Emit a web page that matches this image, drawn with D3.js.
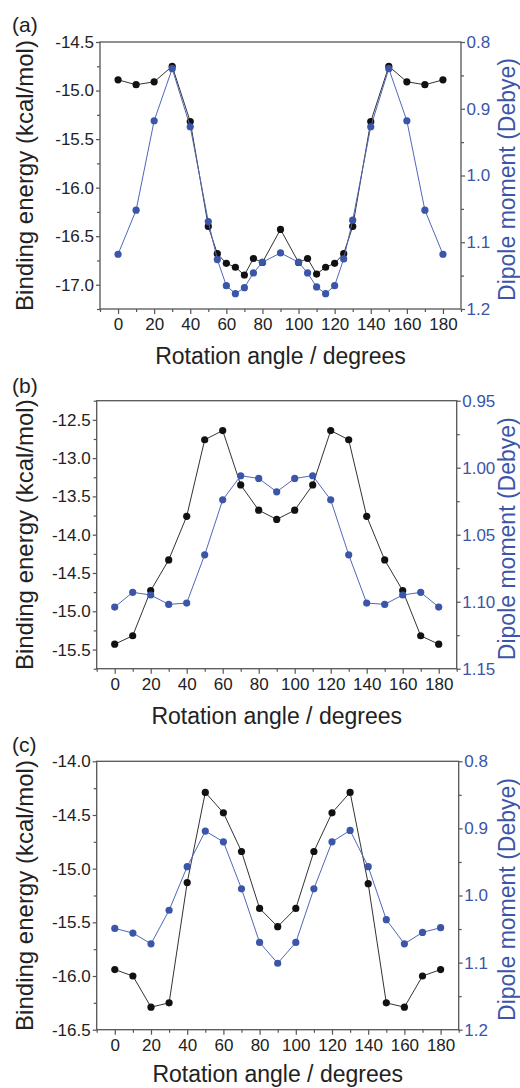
<!DOCTYPE html>
<html>
<head>
<meta charset="utf-8">
<script src="https://cdn.jsdelivr.net/npm/d3@7"></script>
<style>
  body { margin: 0; background: #fff; }
  svg { font-family: "Liberation Sans", Arial, sans-serif; }
</style>
</head>
<body>
<svg id="chart" width="520" height="1088"></svg>
<script>
// ---- data ----
// panel (a)
var anglesA = [0,10,20,30,40,50,55,60,65,70,75,80,90,100,105,110,115,120,125,130,140,150,160,170,180]
var energyA = [-14.89,-14.94,-14.91,-14.75,-15.32,-16.40,-16.68,-16.78,-16.82,-16.90,-16.73,-16.77,-16.43,-16.77,-16.73,-16.89,-16.82,-16.78,-16.68,-16.40,-15.32,-14.75,-14.91,-14.94,-14.89]
var dipoleA = [1.118,1.052,0.918,0.840,0.927,1.069,1.126,1.165,1.177,1.168,1.146,1.130,1.116,1.130,1.146,1.167,1.177,1.165,1.125,1.067,0.927,0.840,0.918,1.052,1.118]
// panel (b)
var anglesB = [0,10,20,30,40,50,60,70,80,90,100,110,120,130,140,150,160,170,180]
var energyB = [-15.43,-15.32,-14.73,-14.33,-13.76,-12.76,-12.64,-13.35,-13.68,-13.80,-13.68,-13.35,-12.64,-12.76,-13.76,-14.33,-14.73,-15.32,-15.43]
var dipoleB = [1.104,1.093,1.095,1.102,1.101,1.065,1.024,1.006,1.008,1.018,1.008,1.006,1.024,1.065,1.101,1.102,1.095,1.093,1.104]
// panel (c)
var anglesC = [0,10,20,30,40,50,60,70,80,90,100,110,120,130,140,150,160,170,180]
var energyC = [-15.94,-16.00,-16.29,-16.25,-15.13,-14.29,-14.48,-14.84,-15.37,-15.54,-15.37,-14.84,-14.48,-14.29,-15.14,-16.25,-16.29,-16.00,-15.94]
var dipoleC = [1.049,1.056,1.072,1.022,0.957,0.904,0.920,0.990,1.070,1.101,1.070,0.990,0.920,0.903,0.957,1.036,1.072,1.055,1.048]

// ticks
var xTicks = [0,20,40,60,80,100,120,140,160,180]
var xMinor = [-10,10,30,50,70,90,110,130,150,170,190]
var leftTicksA = [-14.5,-15.0,-15.5,-16.0,-16.5,-17.0]
var leftTicksB = [-12.5,-13.0,-13.5,-14.0,-14.5,-15.0,-15.5]
var leftTicksC = [-14.0,-14.5,-15.0,-15.5,-16.0,-16.5]
var rightTicksA = [0.8,0.9,1.0,1.1,1.2]
var rightTicksB = [0.95,1.00,1.05,1.10,1.15]
var rightTicksC = [0.8,0.9,1.0,1.1,1.2]

var blue = "#3b55a8"
var blueLine = "#5068b8"
var frameCol = "#555"

var svg = d3.select("#chart")

var drawPanel = function(p){
  var x = d3.scaleLinear().domain([-10, 190]).range([p.left, p.right])
  var yL = d3.scaleLinear().domain(p.leftDomain).range([p.bottom, p.top])
  var yR = d3.scaleLinear().domain(p.rightDomain).range([p.top, p.bottom]) // reversed axis

  var g = svg.append("g")

  // minor ticks (no labels)
  var halfStep = function(ticks){
    var step = Math.abs(ticks[1] - ticks[0])
    var sign = ticks[1] > ticks[0] ? 1 : -1
    var out = []
    for (var i = 0; i < ticks.length; i++) out.push(ticks[i] + sign * step / 2)
    out.push(ticks[0] - sign * step / 2)
    return out
  }
  var inside = function(dom){
    return function(v){ return v >= d3.min(dom) - 1e-9 && v <= d3.max(dom) + 1e-9 }
  }
  g.append("g").attr("transform", "translate(0," + p.bottom + ")")
    .call(d3.axisBottom(x).tickValues(xMinor).tickSize(3).tickFormat(""))
  g.append("g").attr("transform", "translate(" + p.left + ",0)")
    .call(d3.axisLeft(yL).tickValues(halfStep(p.leftTicks).filter(inside(p.leftDomain))).tickSize(3).tickFormat(""))
  g.append("g").attr("transform", "translate(" + p.right + ",0)")
    .call(d3.axisRight(yR).tickValues(halfStep(p.rightTicks).filter(inside(p.rightDomain))).tickSize(3).tickFormat(""))

  // major ticks
  g.append("g").attr("transform", "translate(0," + p.bottom + ")")
    .call(d3.axisBottom(x).tickValues(xTicks).tickSize(5).tickPadding(4.4).tickFormat(d3.format("d")))
  g.append("g").attr("transform", "translate(" + p.left + ",0)")
    .call(d3.axisLeft(yL).tickValues(p.leftTicks).tickSize(4).tickPadding(2).tickFormat(function(d){ return d.toFixed(1) }))
  var ra = g.append("g").attr("transform", "translate(" + p.right + ",0)")
    .call(d3.axisRight(yR).tickValues(p.rightTicks).tickSize(4).tickPadding(1.5).tickFormat(function(d){ return d.toFixed(p.rightDigits) }))

  g.selectAll("g").attr("font-family", null).attr("font-size", null)
  g.selectAll(".domain").remove()
  g.selectAll(".tick line").attr("stroke", frameCol).attr("stroke-width", 1.2)
  g.selectAll(".tick text").style("font-size", "17px").attr("fill", "#222")
  ra.selectAll(".tick text").attr("fill", blue)

  // frame
  g.append("rect")
    .attr("x", p.left).attr("y", p.top)
    .attr("width", p.right - p.left).attr("height", p.bottom - p.top)
    .attr("fill", "none").attr("stroke", frameCol).attr("stroke-width", 1.3)

  // series: black (binding energy) first, blue (dipole) on top
  var energy = p.angles.map(function(a, i){ return {a: a, v: p.energy[i]} })
  var dipole = p.angles.map(function(a, i){ return {a: a, v: p.dipole[i]} })

  g.append("path").datum(energy)
    .attr("fill", "none").attr("stroke", "#333").attr("stroke-width", 1)
    .attr("d", d3.line().x(function(d){ return x(d.a) }).y(function(d){ return yL(d.v) }))
  g.selectAll(".eDot").data(energy).enter().append("circle")
    .attr("cx", function(d){ return x(d.a) }).attr("cy", function(d){ return yL(d.v) })
    .attr("r", 3.6).attr("fill", "#111")

  g.append("path").datum(dipole)
    .attr("fill", "none").attr("stroke", blueLine).attr("stroke-width", 1)
    .attr("d", d3.line().x(function(d){ return x(d.a) }).y(function(d){ return yR(d.v) }))
  g.selectAll(".dDot").data(dipole).enter().append("circle")
    .attr("cx", function(d){ return x(d.a) }).attr("cy", function(d){ return yR(d.v) })
    .attr("r", 3.6).attr("fill", blue)

  // titles
  var cy = (p.top + p.bottom) / 2
  g.append("text")
    .attr("transform", "translate(33," + cy + ") rotate(-90)")
    .attr("text-anchor", "middle").style("font-size", "24px").attr("fill", "#222")
    .text("Binding energy (kcal/mol)")
  g.append("text")
    .attr("transform", "translate(514.5," + (cy + 4) + ") rotate(-90)")
    .attr("text-anchor", "middle").style("font-size", "23px").attr("fill", blue)
    .text("Dipole moment (Debye)")
  g.append("text")
    .attr("x", (p.left + p.right) / 2).attr("y", p.bottom + p.titleGap)
    .attr("text-anchor", "middle").style("font-size", "23px").attr("fill", "#222")
    .text("Rotation angle / degrees")
  g.append("text")
    .attr("x", 12).attr("y", p.labelY)
    .style("font-size", "21px").attr("fill", "#222")
    .text(p.label)
}

drawPanel({label: "(a)", labelY: 32, left: 100, right: 461, top: 42, bottom: 309, titleGap: 55,
  angles: anglesA, energy: energyA, dipole: dipoleA,
  leftDomain: [-17.25, -14.5], rightDomain: [0.8, 1.2],
  leftTicks: leftTicksA, rightTicks: rightTicksA, rightDigits: 1})
drawPanel({label: "(b)", labelY: 393, left: 96.7, right: 456.7, top: 400.7, bottom: 668.7, titleGap: 55,
  angles: anglesB, energy: energyB, dipole: dipoleB,
  leftDomain: [-15.75, -12.25], rightDomain: [0.95, 1.15],
  leftTicks: leftTicksB, rightTicks: rightTicksB, rightDigits: 2})
drawPanel({label: "(c)", labelY: 752, left: 96.7, right: 458.7, top: 761.3, bottom: 1029.7, titleGap: 52,
  angles: anglesC, energy: energyC, dipole: dipoleC,
  leftDomain: [-16.5, -14.0], rightDomain: [0.8, 1.2],
  leftTicks: leftTicksC, rightTicks: rightTicksC, rightDigits: 1})
</script>
</body>
</html>
